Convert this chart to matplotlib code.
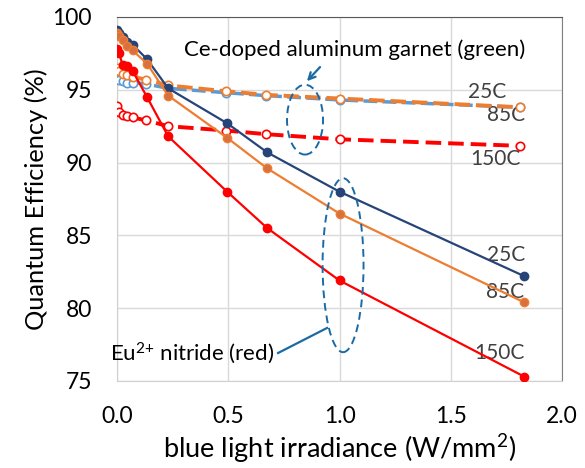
import matplotlib.pyplot as plt
from matplotlib.patches import Ellipse

plt.rcParams['font.family'] = ['Lato', 'DejaVu Sans']
plt.rcParams['mathtext.fontset'] = 'custom'
plt.rcParams['mathtext.rm'] = 'Lato'
plt.rcParams['mathtext.default'] = 'regular'

# irradiance points (W/mm2)
x_nitride = [0.0, 0.01, 0.025, 0.045, 0.07, 0.135, 0.23, 0.495, 0.675, 1.0, 1.83]
x_garnet = [0.0, 0.01, 0.025, 0.045, 0.07, 0.13, 0.23, 0.49, 0.67, 1.0, 1.81]

# Eu2+ nitride (red) quantum efficiency, %
nitride_25 = [99.1, 98.9, 98.6, 98.3, 98.1, 97.1, 95.1, 92.7, 90.7, 88.0, 82.2]
nitride_85 = [98.9, 98.7, 98.4, 98.0, 97.7, 96.8, 94.6, 91.7, 89.6, 86.5, 80.4]
nitride_150 = [97.8, 97.5, 96.7, 96.6, 96.3, 94.5, 91.8, 88.0, 85.5, 81.9, 75.3]

# Ce-doped garnet (green) quantum efficiency, %
garnet_25 = [95.8, 95.7, 95.6, 95.5, 95.5, 95.4, 95.1, 94.8, 94.6, 94.3, 93.8]
garnet_85 = [96.5, 96.3, 96.1, 96.0, 95.9, 95.7, 95.3, 94.9, 94.65, 94.4, 93.8]
garnet_150 = [93.9, 93.5, 93.3, 93.2, 93.1, 92.9, 92.5, 92.2, 91.95, 91.6, 91.15]

DARKBLUE = '#264478'
LIGHTBLUE = '#5B9BD5'
ORANGE = '#ED7D31'
RED = '#FF0000'
NOTE = '#1B6AA5'

fig = plt.figure(figsize=(5.85, 4.68), dpi=100)
ax = fig.add_axes([0.2, 0.186, 0.7607, 0.7777])

# garnet: dashed lines, open markers
ax.plot(x_garnet, garnet_25, color=LIGHTBLUE, lw=2.5, dashes=(4, 1.5),
        marker='o', ms=6, mfc='white', mec=LIGHTBLUE, mew=1.2, zorder=3)
ax.plot(x_garnet, garnet_85, color=ORANGE, lw=2.8, dashes=(4, 1.5),
        marker='o', ms=6, mfc='white', mec=ORANGE, mew=1.2, zorder=4)
ax.plot(x_garnet, garnet_150, color=RED, lw=2.8, dashes=(4, 1.8),
        marker='o', ms=6, mfc='white', mec=RED, mew=1.2, zorder=4)

# nitride: solid lines, filled markers
ax.plot(x_nitride, nitride_25, color=DARKBLUE, lw=1.6,
        marker='o', ms=6, mfc=DARKBLUE, mec=DARKBLUE, zorder=5)
ax.plot(x_nitride, nitride_85, color=ORANGE, lw=1.6,
        marker='o', ms=6, mfc='#D9703F', mec=ORANGE, zorder=5)
ax.plot(x_nitride, nitride_150, color=RED, lw=1.6,
        marker='o', ms=6, mfc=RED, mec=RED, zorder=5)

ax.set_xlim(0, 2)
ax.set_ylim(75, 100)
ax.set_xticks([0, 0.5, 1.0, 1.5, 2.0])
ax.set_xticklabels(['0.0', '0.5', '1.0', '1.5', '2.0'])
ax.set_yticks([75, 80, 85, 90, 95, 100])
ax.tick_params(length=0, labelsize=16.5, pad=18)
ax.grid(True, color='#D9D9D9', lw=1)
ax.set_axisbelow(True)
ax.spines['top'].set_color('#595959')
ax.spines['right'].set_color('#808080')
ax.spines['left'].set_color('#D0D0D0')
ax.spines['bottom'].set_color('#D0D0D0')

ax.set_xlabel('blue light irradiance (W/mm$^{2}$)', fontsize=19.5, labelpad=4)
ax.set_ylabel('Quantum Efficiency (%)', fontsize=18.3, labelpad=3)

# temperature labels
lab = dict(fontsize=15, color='#404040', ha='center', va='center')
ax.text(1.663, 94.85, '25C', **lab)
ax.text(1.748, 93.27, '85C', **lab)
ax.text(1.70, 90.25, '150C', **lab)
ax.text(1.748, 83.65, '25C', **lab)
ax.text(1.744, 81.1, '85C', **lab)
ax.text(1.717, 76.9, '150C', **lab)

# group call-outs
ax.add_patch(Ellipse((0.845, 92.95), 0.162, 4.8, fill=False, ec=NOTE,
                     lw=1.4, ls=(0, (4, 2.5)), zorder=6))
ax.add_patch(Ellipse((1.016, 82.95), 0.184, 11.95, fill=False, ec=NOTE,
                     lw=1.4, ls=(0, (4, 2.5)), zorder=6))

ax.text(1.07, 97.73, 'Ce-doped aluminum garnet (green)', fontsize=16,
        ha='center', va='center', zorder=7)
ax.annotate('', xy=(0.845, 95.45), xytext=(0.921, 96.7),
            arrowprops=dict(arrowstyle='->', color=NOTE, lw=1.6,
                            mutation_scale=12))

ax.text(-0.03, 76.9, 'Eu$^{2{+}}$ nitride (red)', fontsize=16,
        ha='left', va='center', zorder=7)
ax.plot([0.724, 0.944], [76.92, 78.64], color=NOTE, lw=1.6, zorder=6)

fig.savefig('out.png', dpi=100)
